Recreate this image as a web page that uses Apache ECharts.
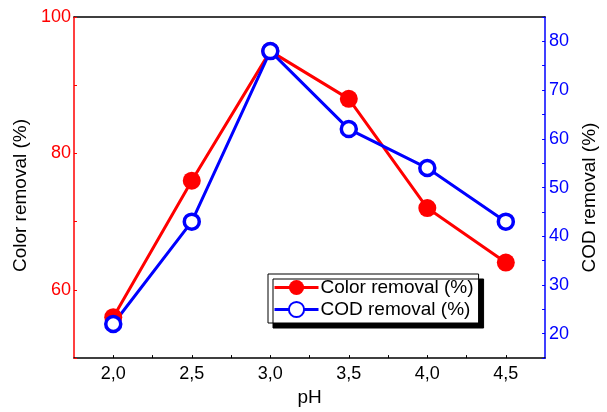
<!DOCTYPE html>
<html>
<head>
<meta charset="utf-8">
<script src="https://cdn.jsdelivr.net/npm/echarts@6/dist/echarts.min.js"></script>
<style>
  html, body { margin: 0; padding: 0; background: #fff; }
  #chart { width: 607px; height: 412px; }
</style>
</head>
<body>
<div id="chart"></div>
<script>
const phValues = [2.0, 2.5, 3.0, 3.5, 4.0, 4.5];
const colorRemoval = [56, 76, 95, 88, 72, 64];
const codRemoval = [22, 43, 78, 62, 54, 43];

const font = '"Liberation Sans", Arial, sans-serif';

function pares(ys) {
  return phValues.map((x, i) => [x, ys[i]]);
}

const chart = echarts.init(document.getElementById('chart'));

chart.setOption({
  animation: false,
  textStyle: { fontFamily: font },
  grid: { left: 74, right: 60, top: 17, bottom: 49 },
  legend: {
    left: 268,
    top: 274,
    orient: 'vertical',
    itemGap: 3,
    itemWidth: 44,
    itemHeight: 19,
    padding: [4, 5, 4, 5],
    backgroundColor: '#fff',
    borderColor: '#000',
    borderWidth: 1,
    borderRadius: 0,
    shadowColor: '#000',
    shadowBlur: 0,
    shadowOffsetX: 5,
    shadowOffsetY: 5,
    lineStyle: { width: 3 },
    textStyle: { fontSize: 19, color: '#000', fontFamily: font, padding: [0, 0, 0, -3] },
    data: ['Color removal (%)', 'COD removal (%)']
  },
  xAxis: [{
    type: 'value',
    min: 1.75,
    max: 4.75,
    interval: 0.25,
    name: 'pH',
    nameLocation: 'middle',
    nameGap: 29,
    nameTextStyle: { fontSize: 19, color: '#000' },
    axisLine: { lineStyle: { color: '#000', width: 1.5 } },
    axisTick: { inside: true, length: 3, lineStyle: { color: '#000' } },
    splitLine: { show: false },
    axisLabel: {
      fontSize: 18,
      color: '#000',
      margin: 7,
      showMinLabel: false,
      showMaxLabel: false,
      formatter: v => (Math.abs(v * 2 - Math.round(v * 2)) < 1e-6 ? v.toFixed(1).replace('.', ',') : '')
    }
  }, {
    type: 'value',
    position: 'top',
    min: 1.75,
    max: 4.75,
    axisLine: { show: true, lineStyle: { color: '#000', width: 1.5 } },
    axisTick: { show: false },
    axisLabel: { show: false },
    splitLine: { show: false }
  }],
  yAxis: [{
    type: 'value',
    min: 50,
    max: 100,
    interval: 10,
    name: 'Color removal (%)',
    nameLocation: 'middle',
    nameGap: 42,
    nameTextStyle: { fontSize: 19, color: '#000', padding: [0, 16, 0, 0] },
    axisLine: { show: true, lineStyle: { color: '#ff0000', width: 1.5 } },
    axisTick: { show: true, inside: true, length: 3, lineStyle: { color: '#ff0000' } },
    splitLine: { show: false },
    axisLabel: {
      fontSize: 18,
      color: '#ff0000',
      margin: 3,
      formatter: v => (v % 20 === 0 ? String(v) : '')
    }
  }, {
    type: 'value',
    position: 'right',
    min: 15,
    max: 85,
    interval: 5,
    name: 'COD removal (%)',
    nameLocation: 'middle',
    nameGap: 31,
    nameRotate: 90,
    nameTextStyle: { fontSize: 19, color: '#000', padding: [0, 20, 0, 0] },
    axisLine: { show: true, lineStyle: { color: '#0000ff', width: 1.5 } },
    axisTick: { show: true, inside: true, length: 3, lineStyle: { color: '#0000ff' } },
    splitLine: { show: false },
    axisLabel: {
      fontSize: 18,
      color: '#0000ff',
      margin: 4,
      formatter: v => (v % 10 === 0 ? String(v) : '')
    }
  }],
  series: [{
    name: 'Color removal (%)',
    type: 'line',
    yAxisIndex: 0,
    data: pares(colorRemoval),
    symbol: 'circle',
    symbolSize: 18,
    lineStyle: { color: '#ff0000', width: 3 },
    itemStyle: { color: '#ff0000' }
  }, {
    name: 'COD removal (%)',
    type: 'line',
    yAxisIndex: 1,
    data: pares(codRemoval),
    symbol: 'circle',
    symbolSize: 15,
    lineStyle: { color: '#0000ff', width: 3 },
    itemStyle: { color: '#fff', borderColor: '#0000ff', borderWidth: 3.5 }
  }]
});
</script>
</body>
</html>
